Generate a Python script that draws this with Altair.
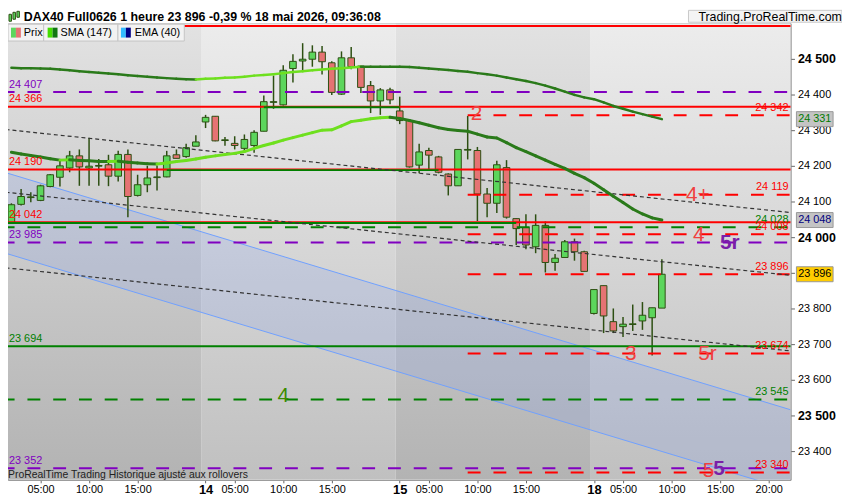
import altair as alt
import pandas as pd

# hourly bars, index 0 = 13 mai 02:00, 20 bars per session (02:00-21:00)
opens = [24041, 24092, 24111, 24103, 24142, 24168, 24194, 24228, 24194, 24199,
         24203, 24171, 24232, 24117, 24147, 24167, 24169, 24231, 24226, 24255,
         24323, 24339, 24271, 24263, 24249, 24257, 24297, 24378, 24371, 24473,
         24494, 24499, 24519, 24489, 24401, 24503, 24480, 24425, 24382, 24413,
         24354, 24327, 24202, 24243, 24225, 24177, 24144, 24244, 24243, 24121,
         24095, 24195, 24052, 24027, 23973, 24033, 23929, 23943, 23987, 23959,
         23786, 23864, 23763, 23749, 23755, 23765, 23774, 23801]
highs = [24095, 24135, 24126, 24147, 24177, 24214, 24242, 24246, 24279, 24219,
         24231, 24242, 24246, 24175, 24200, 24200, 24242, 24246, 24262, 24286,
         24343, 24339, 24281, 24283, 24288, 24300, 24397, 24453, 24482, 24513,
         24544, 24538, 24536, 24493, 24521, 24533, 24480, 24438, 24418, 24419,
         24394, 24327, 24262, 24251, 24228, 24179, 24246, 24340, 24253, 24138,
         24214, 24216, 24052, 24064, 24064, 24044, 23953, 23992, 23996, 23962,
         23853, 23864, 23800, 23776, 23811, 23818, 23802, 23938]
lows = [24040, 24089, 24098, 24101, 24140, 24142, 24182, 24144, 24144, 24144,
        24143, 24156, 24056, 24114, 24126, 24131, 24168, 24221, 24223, 24255,
        24306, 24269, 24256, 24246, 24240, 24237, 24297, 24360, 24369, 24434,
        24468, 24478, 24456, 24399, 24399, 24471, 24404, 24348, 24343, 24373,
        24317, 24195, 24179, 24186, 24179, 24117, 24144, 24218, 24045, 24056,
        24068, 24052, 23978, 23966, 23955, 23901, 23906, 23943, 23934, 23904,
        23783, 23731, 23731, 23720, 23737, 23740, 23668, 23801]
closes = [24091, 24114, 24113, 24144, 24175, 24200, 24228, 24197, 24199, 24201,
          24171, 24232, 24114, 24147, 24166, 24169, 24228, 24221, 24251, 24267,
          24336, 24270, 24273, 24257, 24274, 24294, 24380, 24380, 24468, 24493,
          24499, 24519, 24492, 24406, 24503, 24478, 24420, 24382, 24413, 24385,
          24327, 24197, 24239, 24230, 24182, 24144, 24246, 24246, 24121, 24095,
          24203, 24056, 24024, 23978, 24033, 23929, 23941, 23987, 23959, 23904,
          23853, 23779, 23737, 23756, 23757, 23781, 23802, 23896]

sma147 = [24475, 24474, 24474, 24473, 24472, 24470, 24468, 24465, 24463, 24461,
          24459, 24457, 24454, 24452, 24450, 24448, 24446, 24444, 24443, 24442,
          24444, 24445, 24447, 24448, 24450, 24453, 24455, 24457, 24460, 24463,
          24465, 24468, 24470, 24472, 24474, 24476, 24478, 24478, 24478, 24478,
          24478, 24477, 24475, 24473, 24471, 24469, 24466, 24464, 24460, 24457,
          24453, 24448, 24443, 24438, 24432, 24425, 24417, 24408, 24399, 24392,
          24387, 24378, 24368, 24360, 24352, 24345, 24338, 24331]
ema40 = [24238, 24233, 24229, 24225, 24220, 24216, 24217, 24215, 24214, 24212,
         24212, 24213, 24210, 24208, 24206, 24205, 24208, 24212, 24215, 24219,
         24224, 24228, 24232, 24235, 24240, 24249, 24257, 24264, 24272, 24279,
         24286, 24293, 24300, 24301, 24312, 24324, 24328, 24332, 24335, 24336,
         24333, 24327, 24321, 24314, 24307, 24302, 24299, 24297, 24289, 24281,
         24278, 24265, 24251, 24240, 24228, 24216, 24204, 24193, 24179, 24167,
         24151, 24133, 24115, 24097, 24079, 24065, 24054, 24048]

tick_bars = [3, 8, 13, 20, 23, 28, 33, 40, 43, 48, 53, 60, 63, 68, 73, 78]
tick_names = ["05:00", "10:00", "15:00", "14", "05:00", "10:00", "15:00", "15",
              "05:00", "10:00", "15:00", "18", "05:00", "10:00", "15:00", "20:00"]
day_bars = [20, 40, 60]
price_ticks = list(range(23400, 24501, 100))

session_from = [-1, 19.6, 39.6, 59.6]
session_to = [19.6, 39.6, 59.6, 81]
session_shade = ["dark", "light", "dark", "light"]

RED, GREEN, PURPLE = "#ff0000", "#008000", "#8000c0"
# horizontal levels: price, first bar, last bar, colour, style
level_price = [24592, 24407, 24366, 24342, 24190, 24119, 24042, 24028, 24008,
               23985, 23896, 23694, 23674, 23545, 23352, 23340, 24364, 24188, 24040]
level_from = [-1, -1, -1, 47, -1, 47, -1, -1, 47, -1, 47, -1, 47, -1, -1, 47, 26, 16, -1]
level_to = [81] * 16 + [40, 44, 52]
level_color = [RED, PURPLE, RED, RED, RED, RED, RED, GREEN, RED,
               PURPLE, RED, GREEN, RED, GREEN, PURPLE, RED, GREEN, GREEN, GREEN]
level_style = ["solid", "dash", "solid", "dash", "solid", "dash", "solid", "dash", "dash",
               "dash", "dash", "solid", "dash", "dash", "dash", "dash", "solid", "solid", "solid"]

left_label_price = [24407, 24366, 24190, 24042, 23985, 23694, 23352]
left_label_color = [PURPLE, RED, RED, RED, PURPLE, GREEN, PURPLE]
right_label_price = [24342, 24119, 24028, 24008, 23896, 23674, 23545, 23340]
right_label_color = [RED, RED, GREEN, RED, RED, RED, GREEN, RED]

# dotted trend lines
trend_x0 = [-0.6, -0.6, -0.6]
trend_x1 = [80.25, 80.25, 80.25]
trend_y0 = [24302, 24126, 23914]
trend_y1 = [24069, 23893, 23681]

# regression channel
chan_x = [-0.6, 80.25]
chan_hi = [24181, 23516]
chan_lo = [23955, 23290]

ann_text = ["2", "4+", "4", "5r", "3", "5r", "4", "5", "5"]
ann_bar = [47.9, 70.7, 70.8, 74.0, 63.8, 71.7, 28.0, 71.8, 72.9]
ann_price = [24349, 24122, 24010, 23986, 23676, 23676, 23556, 23346, 23351]
ann_color = ["#f04040", "#f04040", "#f04040", "#7a1fa8", "#f04040", "#f04040",
             "#3c8c00", "#f04040", "#7a1fa8"]
ann_weight = ["normal", "normal", "normal", "bold", "normal", "normal", "normal",
              "normal", "bold"]

marker_price = [24331, 24048, 23896]
marker_fill = ["#c4c4c4", "#c4c4c4", "#ffcc00"]
marker_text_color = ["#007a00", "#000080", "#000000"]

W, H = 790, 461
FONT = "Liberation Sans"
xs = alt.Scale(domain=[-0.35, 80.25], nice=False, zero=False)
ys = alt.Scale(domain=[23319.4, 24600], nice=False, zero=False)

day_test = " || ".join(f"datum.value == {d}" for d in day_bars)
x_axis = alt.Axis(
    values=tick_bars, title=None, grid=False, tickSize=3, labelPadding=1,
    labelExpr=" : ".join(f"datum.value == {b} ? '{n}'" for b, n in zip(tick_bars, tick_names)) + " : ''",
    labelFont=FONT, labelColor="#000", tickColor="#666", domainColor="#999",
    labelFontSize={"condition": {"test": day_test, "value": 13}, "value": 11},
    labelFontWeight={"condition": {"test": day_test, "value": "bold"}, "value": "normal"},
)
y_axis = alt.Axis(
    orient="right", values=price_ticks, title=None, grid=False,
    tickSize=4, labelPadding=3, labelFont=FONT, labelColor="#000", tickColor="#666",
    domainColor="#999", labelAlign="left",
    labelExpr="replace(format(datum.value, ','), ',', ' ')",
    labelFontSize={"condition": {"test": "datum.value % 500 == 0", "value": 12.5}, "value": 11},
    labelFontWeight={"condition": {"test": "datum.value % 500 == 0", "value": "bold"}, "value": "normal"},
)


def fmt(p):
    return f"{p:,}".replace(",", " ")


def X(f):
    return alt.X(f, type="quantitative", scale=xs, axis=x_axis)


def Y(f):
    return alt.Y(f, type="quantitative", scale=ys, axis=y_axis)


def grad(top, bottom):
    return alt.LinearGradient(gradient="linear", x1=0, x2=0, y1=0, y2=1,
                              stops=[alt.GradientStop(color=top, offset=0),
                                     alt.GradientStop(color=bottom, offset=1)])


sessions = pd.DataFrame({"a": session_from, "b": session_to, "shade": session_shade})
bg_dark = alt.Chart(sessions).transform_filter("datum.shade == 'dark'").mark_rect(
    fill=grad("#e2e2e2", "#b3b3b3"), clip=True
).encode(x=X("a"), x2="b", y=alt.value(0), y2=alt.value(H))
bg_light = alt.Chart(sessions).transform_filter("datum.shade == 'light'").mark_rect(
    fill=grad("#ececec", "#c0c0c0"), clip=True
).encode(x=X("a"), x2="b", y=alt.value(0), y2=alt.value(H))

chan = pd.DataFrame({"x": chan_x, "hi": chan_hi, "lo": chan_lo})
chan_area = alt.Chart(chan).mark_area(color="#7f9cf0", opacity=0.2, clip=True).encode(
    x=X("x"), y=Y("hi"), y2="lo")
chan_top = alt.Chart(chan).mark_line(color="#6fa0ff", strokeWidth=1, clip=True).encode(
    x=X("x"), y=Y("hi"))
chan_bot = alt.Chart(chan).mark_line(color="#6fa0ff", strokeWidth=1, clip=True).encode(
    x=X("x"), y=Y("lo"))

bars = pd.DataFrame({"i": range(len(opens)), "o": opens, "h": highs, "l": lows, "c": closes})
WICK = "#2d4f12"
wicks = alt.Chart(bars).mark_rule(color=WICK, strokeWidth=1.5).encode(
    x=X("i"), y=Y("l"), y2="h")
bodies = alt.Chart(bars).transform_calculate(
    left="datum.i - 0.34", right="datum.i + 0.34"
).mark_rect(stroke=WICK, strokeWidth=1).encode(
    x=X("left"), x2="right", y=Y("o"), y2="c",
    fill=alt.condition("datum.c >= datum.o", alt.value("#5cd65c"), alt.value("#e57373")))

levels = pd.DataFrame({"p": level_price, "a": level_from, "b": level_to,
                       "col": level_color, "st": level_style})
level_rules = alt.Chart(levels).mark_rule(strokeWidth=2, clip=True).encode(
    x=X("a"), x2="b", y=Y("p"),
    color=alt.Color("col:N", scale=None),
    strokeDash=alt.StrokeDash("st:N", scale=alt.Scale(domain=["solid", "dash"], range=[[1, 0], [13, 13]]), legend=None))

trends = pd.DataFrame({"a": trend_x0, "b": trend_x1, "p": trend_y0, "q": trend_y1})
trend_rules = alt.Chart(trends).mark_rule(color="#333", strokeWidth=1.2, strokeDash=[4, 3], clip=True).encode(
    x=X("a"), x2="b", y=Y("p"), y2="q")


def seg_frame(vals):
    return pd.DataFrame({"a": list(range(len(vals) - 1)), "b": list(range(1, len(vals))),
                         "v": vals[:-1], "w": vals[1:],
                         "dir": ["up" if vals[k + 1] > vals[k] else "down" for k in range(len(vals) - 1)]})


sma_line = alt.Chart(seg_frame(sma147)).mark_rule(strokeWidth=2.5, strokeCap="round").encode(
    x=X("a"), x2="b", y=Y("v"), y2="w",
    color=alt.Color("dir:N", scale=alt.Scale(domain=["up", "down"], range=["#6ee01e", "#2a7a1a"]), legend=None))
ema_line = alt.Chart(seg_frame(ema40)).mark_rule(strokeWidth=3, strokeCap="round").encode(
    x=X("a"), x2="b", y=Y("v"), y2="w",
    color=alt.Color("dir:N", scale=alt.Scale(domain=["up", "down"], range=["#40b8ff", "#00008b"]), legend=None))

left_lab = pd.DataFrame({"p": left_label_price, "t": [fmt(p) for p in left_label_price], "col": left_label_color})
right_lab = pd.DataFrame({"p": right_label_price, "t": [fmt(p) for p in right_label_price], "col": right_label_color})
left_text = alt.Chart(left_lab).mark_text(align="left", baseline="middle", dy=-7.5, fontSize=11, font=FONT).encode(
    x=alt.value(1), y=Y("p"), text="t:N", color=alt.Color("col:N", scale=None))
right_text = alt.Chart(right_lab).mark_text(align="right", baseline="middle", dy=-7.5, fontSize=11, font=FONT).encode(
    x=alt.value(W - 2), y=Y("p"), text="t:N", color=alt.Color("col:N", scale=None))

ann = pd.DataFrame({"t": ann_text, "x": ann_bar, "p": ann_price, "col": ann_color, "wt": ann_weight})
ann_norm = alt.Chart(ann).transform_filter("datum.wt == 'normal'").mark_text(
    fontSize=21, font=FONT, baseline="middle", dy=1).encode(
    x=X("x"), y=Y("p"), text="t:N", color=alt.Color("col:N", scale=None))
ann_bold = alt.Chart(ann).transform_filter("datum.wt == 'bold'").mark_text(
    fontSize=21, font=FONT, fontWeight="bold", baseline="middle", dy=1).encode(
    x=X("x"), y=Y("p"), text="t:N", color=alt.Color("col:N", scale=None))

marks = pd.DataFrame({"p": marker_price, "t": [fmt(p) for p in marker_price],
                      "fill": marker_fill, "tc": marker_text_color})
marks["lo"] = marks["p"] - 21
marks["hi"] = marks["p"] + 21
mark_box = alt.Chart(marks).mark_rect(stroke="#999", strokeWidth=1).encode(
    x=alt.value(W + 6), x2=alt.value(W + 43), y=Y("lo"), y2="hi",
    fill=alt.Color("fill:N", scale=None))
mark_txt = alt.Chart(marks).mark_text(fontSize=11, font=FONT, baseline="middle").encode(
    x=alt.value(W + 24.5), y=Y("p"), text="t:N", color=alt.Color("tc:N", scale=None))

# header, legend boxes, footer
dummy = pd.DataFrame({"k": [0]})


def box(x0, x1, y0, y1, fill, stroke=None):
    kw = {"fill": fill}
    if stroke:
        kw.update(stroke=stroke, strokeWidth=1)
    return alt.Chart(dummy).mark_rect(**kw).encode(
        x=alt.value(x0), x2=alt.value(x1), y=alt.value(y0), y2=alt.value(y1))


def label(x, y, txt, size=11, weight="normal", color="#000"):
    return alt.Chart(dummy).mark_text(align="left", baseline="middle", fontSize=size,
                                      fontWeight=weight, font=FONT, color=color).encode(
        x=alt.value(x), y=alt.value(y), text=alt.value(txt))


chrome = [
    box(687, 842, -13, -1, "#f4f4f4", "#c8c8c8"),
    label(697, -6, "Trading.ProRealTime.com", size=12.5),
    box(1, 3.5, -9, -2, "#5cd65c", WICK), box(5, 7.5, -11, -4, "#5cd65c", WICK),
    box(9, 11.5, -12, -6, "#5cd65c", WICK),
    label(16, -6, "DAX40 Full0626 1 heure 23 896 -0,39 % 18 mai 2026, 09:36:08", size=12.5, weight="bold"),
    box(0, 36, 1, 18, "#f2f2f2", "#c4c4c4"),
    box(3, 8, 4.5, 14.5, "#5cd65c"), box(8, 13, 4.5, 14.5, "#e57373"),
    label(16, 10, "Prix"),
    box(36, 111, 1, 18, "#f2f2f2", "#c4c4c4"),
    box(40, 45, 4.5, 14.5, "#44dd00"), box(45, 50, 4.5, 14.5, "#117711"),
    label(53, 10, "SMA (147)"),
    box(111, 178, 1, 18, "#f2f2f2", "#c4c4c4"),
    box(114, 119, 4.5, 14.5, "#33bbff"), box(119, 124, 4.5, 14.5, "#000088"),
    label(128, 10, "EMA (40)"),
    label(0, H - 5, "ProRealTime Trading  Historique ajusté aux rollovers", size=10.5, color="#222"),
]

chart = alt.layer(
    bg_dark, bg_light, chan_area, chan_top, chan_bot,
    wicks, bodies, level_rules, trend_rules, sma_line, ema_line,
    left_text, right_text, ann_norm, ann_bold, mark_box, mark_txt, *chrome
).properties(
    width=W, height=H,
    padding={"left": 0, "top": 13, "right": 52, "bottom": 18},
    autosize=alt.AutoSizeParams(type="none"),
    background="white",
).configure_view(stroke="#9a9a9a")

chart.save("out.html", embed_options={"renderer": "svg", "actions": False})
